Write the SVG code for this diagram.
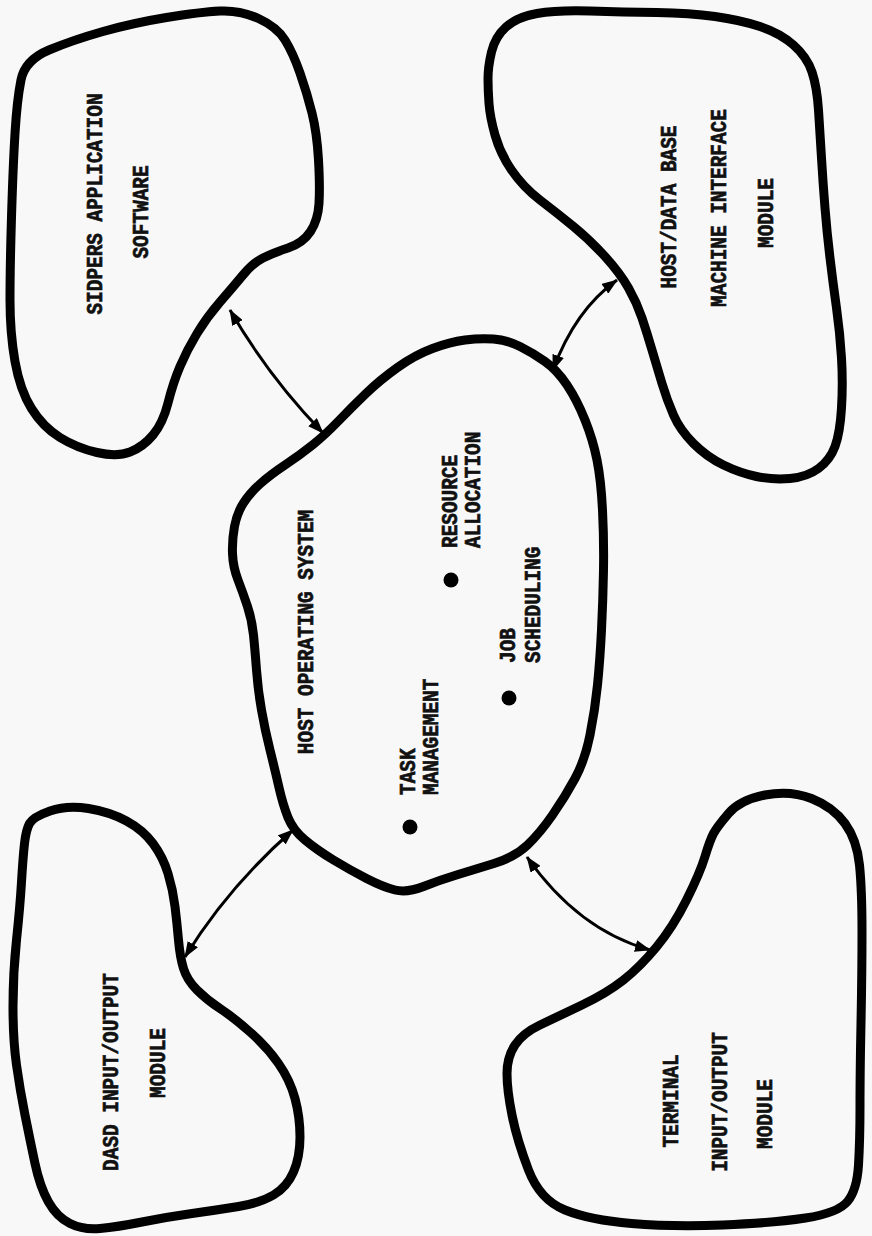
<svg xmlns="http://www.w3.org/2000/svg" width="872" height="1236" viewBox="0 0 872 1236">
<style>
.blob{fill:none;stroke:#000;stroke-width:9;stroke-linejoin:round}
.conn{fill:none;stroke:#000;stroke-width:3}
.lbl{font-family:"Liberation Mono","DejaVu Sans Mono",monospace;font-weight:bold;font-size:20px;fill:#111;stroke:#111;stroke-width:0.6}
.mid{text-anchor:middle}
</style>
<defs>
<marker id="ah" viewBox="0 0 16 12" refX="15" refY="6" markerWidth="16" markerHeight="12" markerUnits="userSpaceOnUse" orient="auto-start-reverse">
<path d="M0,0 L16,6 L0,12 z" fill="#000"/>
</marker>
</defs>
<rect width="872" height="1236" fill="#f8f8f8"/>
<g id="sidpers">
<path class="blob" d="M21,80 Q25,60 49,50 Q73,40 103,31.5 Q133,23 166.5,17.5 Q200,12 220,11 Q240,10 258.5,18.5 Q277,27 285,40 Q293,53 300,73 Q307,93 312,113 Q317,133 318.5,160 Q320,187 319,203.5 Q318,220 310.5,231.5 Q303,243 288,248 Q273,253 263,258 Q253,263 243,275 Q233,287 220,302 Q207,317 197,333.5 Q187,350 180,366.5 Q173,383 168,403 Q163,423 153,435 Q143,447 130,452 Q117,457 97,452.5 Q77,448 60,437.5 Q43,427 31.5,408.5 Q20,390 15,361.5 Q10,333 10,300 Q10,267 11.5,217 Q13,167 15,133.5 Q17,100 21,80 Z"/>
<text class="lbl mid" transform="translate(102,204) rotate(-90) scale(0.97,1.12)">SIDPERS APPLICATION</text>
<text class="lbl mid" transform="translate(148,212) rotate(-90) scale(0.97,1.12)">SOFTWARE</text>
</g>
<g id="hostdb">
<path class="blob" d="M488,78.5 Q488,67 491.5,52 Q495,37 506,27 Q517,17 537,13.5 Q557,10 590,11 Q623,12 656.5,12.5 Q690,13 715,16.5 Q740,20 760,26.5 Q780,33 793.5,45 Q807,57 812,72 Q817,87 818.5,110 Q820,133 821.5,158 Q823,183 825,208 Q827,233 830,258 Q833,283 836.5,308 Q840,333 841.5,358 Q843,383 841.5,408 Q840,433 835,446.5 Q830,460 818.5,468.5 Q807,477 790,478.5 Q773,480 756.5,476.5 Q740,473 723.5,465 Q707,457 693.5,443.5 Q680,430 673.5,415 Q667,400 662,383.5 Q657,367 652,350 Q647,333 642,318 Q637,303 628.5,288 Q620,273 605,256.5 Q590,240 573.5,226.5 Q557,213 540,200 Q523,187 511.5,170 Q500,153 495,135 Q490,117 489,103.5 Q488,90 488,78.5 Z"/>
<text class="lbl mid" transform="translate(676,207) rotate(-90) scale(0.97,1.12)">HOST/DATA BASE</text>
<text class="lbl mid" transform="translate(726,208) rotate(-90) scale(0.97,1.12)">MACHINE INTERFACE</text>
<text class="lbl mid" transform="translate(773,213) rotate(-90) scale(0.97,1.12)">MODULE</text>
</g>
<g id="hostos">
<path class="blob" d="M432.5,348.5 Q450,342 465,340 Q480,338 493.5,339 Q507,340 520,346.5 Q533,353 545,361.5 Q557,370 567,385 Q577,400 585,420 Q593,440 597,460 Q601,480 602.5,510 Q604,540 603.5,570 Q603,600 601.5,630 Q600,660 597.5,685 Q595,710 590,735 Q585,760 575,778.5 Q565,797 552.5,815 Q540,833 527.5,845 Q515,857 494,863.5 Q473,870 456.5,875 Q440,880 423.5,886.5 Q407,893 395,890 Q383,887 366.5,878.5 Q350,870 333.5,860 Q317,850 305,840 Q293,830 288,817.5 Q283,805 279,787.5 Q275,770 270,750 Q265,730 261.5,710 Q258,690 256.5,670 Q255,650 253.5,635 Q252,620 247.5,606.5 Q243,593 238,580 Q233,567 232.5,553.5 Q232,540 234.5,526.5 Q237,513 243.5,503 Q250,493 260,484 Q270,475 285,465 Q300,455 312.5,445 Q325,435 338.5,421 Q352,407 366,393.5 Q380,380 397.5,367.5 Q415,355 432.5,348.5 Z"/>
<text class="lbl mid" transform="translate(313,632) rotate(-90) scale(0.97,1.12)">HOST OPERATING SYSTEM</text>
<circle cx="451" cy="580" r="7.5" fill="#000"/>
<text class="lbl" transform="translate(457,548) rotate(-90) scale(0.97,1.12)">RESOURCE</text>
<text class="lbl" transform="translate(480,548) rotate(-90) scale(0.97,1.12)">ALLOCATION</text>
<circle cx="509" cy="698" r="7.5" fill="#000"/>
<text class="lbl" transform="translate(515,663) rotate(-90) scale(0.97,1.12)">JOB</text>
<text class="lbl" transform="translate(540,663) rotate(-90) scale(0.97,1.12)">SCHEDULING</text>
<circle cx="410" cy="827" r="7.5" fill="#000"/>
<text class="lbl" transform="translate(415,795) rotate(-90) scale(0.97,1.12)">TASK</text>
<text class="lbl" transform="translate(438,795) rotate(-90) scale(0.97,1.12)">MANAGEMENT</text>
</g>
<g id="dasd">
<path class="blob" d="M29.5,823.5 Q33,817 50,811 Q67,805 88.5,808.5 Q110,812 126.5,821 Q143,830 153,843.5 Q163,857 168,873.5 Q173,890 175,906.5 Q177,923 178.5,940 Q180,957 183.5,968.5 Q187,980 197,990 Q207,1000 220,1008.5 Q233,1017 250,1032 Q267,1047 278.5,1063.5 Q290,1080 295,1098.5 Q300,1117 300,1137 Q300,1157 293.5,1172 Q287,1187 273.5,1195 Q260,1203 238.5,1206.5 Q217,1210 192,1213.5 Q167,1217 142,1222 Q117,1227 100,1228.5 Q83,1230 70,1223.5 Q57,1217 48.5,1202 Q40,1187 35,1163.5 Q30,1140 25,1115 Q20,1090 16.5,1065 Q13,1040 13,1006.5 Q13,973 16.5,940 Q20,907 21.5,882 Q23,857 24.5,843.5 Q26,830 29.5,823.5 Z"/>
<text class="lbl mid" transform="translate(118,1072) rotate(-90) scale(0.97,1.12)">DASD INPUT/OUTPUT</text>
<text class="lbl mid" transform="translate(165,1063) rotate(-90) scale(0.97,1.12)">MODULE</text>
</g>
<g id="terminal">
<path class="blob" d="M713.5,833.5 Q717,827 728.5,813.5 Q740,800 765,795 Q790,790 811.5,798.5 Q833,807 845,823.5 Q857,840 859.5,865 Q862,890 862,931.5 Q862,973 861,1023 Q860,1073 860,1106.5 Q860,1140 858.5,1165 Q857,1190 847.5,1201.5 Q838,1213 805.5,1218 Q773,1223 723,1225 Q673,1227 631.5,1223.5 Q590,1220 565,1210 Q540,1200 528.5,1170 Q517,1140 512,1115 Q507,1090 507,1073.5 Q507,1057 515,1045 Q523,1033 540,1025 Q557,1017 582,1005 Q607,993 623.5,980 Q640,967 656.5,947 Q673,927 686.5,900 Q700,873 705,856.5 Q710,840 713.5,833.5 Z"/>
<text class="lbl mid" transform="translate(678,1101) rotate(-90) scale(0.97,1.12)">TERMINAL</text>
<text class="lbl mid" transform="translate(727,1102) rotate(-90) scale(0.97,1.12)">INPUT/OUTPUT</text>
<text class="lbl mid" transform="translate(772,1114) rotate(-90) scale(0.97,1.12)">MODULE</text>
</g>
<g id="connectors">
<path class="conn" d="M230,310 Q268,376 323,433" marker-start="url(#ah)" marker-end="url(#ah)"/>
<path class="conn" d="M553,370 Q575,310 617,280" marker-start="url(#ah)" marker-end="url(#ah)"/>
<path class="conn" d="M185,957 Q228,887 293,830" marker-start="url(#ah)" marker-end="url(#ah)"/>
<path class="conn" d="M527,857 Q578,930 650,950" marker-start="url(#ah)" marker-end="url(#ah)"/>
</g>
</svg>
